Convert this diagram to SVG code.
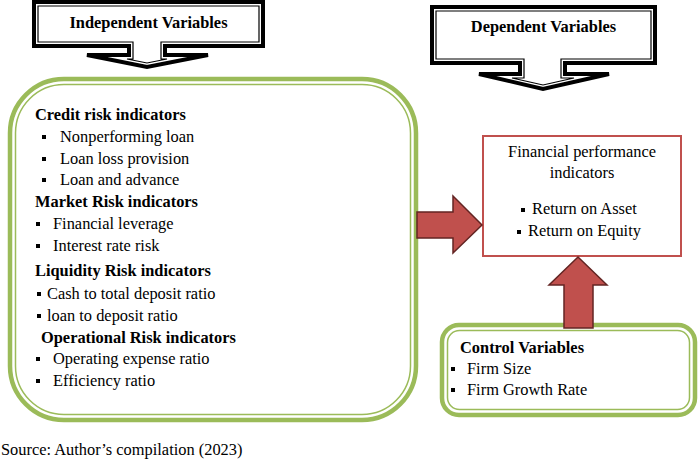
<svg xmlns="http://www.w3.org/2000/svg" width="698" height="464" viewBox="0 0 698 464">
<style>
text{font-family:"Liberation Serif","Times New Roman",serif;font-size:16.4px;fill:#000}
.b{font-weight:bold}
.c{text-anchor:middle}
.co{fill:#fff;stroke:#000;stroke-width:4;stroke-linejoin:miter}
.ci{fill:none;stroke:#000;stroke-width:1.2}
.go{fill:#fff;stroke:#9bbb59;stroke-width:4.5}
.gi{fill:none;stroke:#9bbb59;stroke-width:1.5}
.ar{fill:#c0504d;stroke:#632523;stroke-width:1.5;stroke-linejoin:miter}
.bl{fill:#000}
</style>
<rect width="698" height="464" fill="#fff"/>

<g id="independent-callout">
<path class="co" d="M34,2 H263 V46 H165 V55 H208 L147,67 L87,55 H129 V46 H34 Z"/>
<path class="ci" d="M38,6 H259 V42 H161 V59 H167 L147,63 L127,59 H133 V42 H38 Z"/>
<text class="b c" x="148.5" y="28">Independent Variables</text>
</g>

<g id="dependent-callout">
<path class="co" d="M432,7 H655 V63 H565 V74 H609 L543,89 L479,74 H520 V63 H432 Z"/>
<path class="ci" d="M436,11 H651 V59 H561 V78 H574 L543,85 L512,78 H524 V59 H436 Z"/>
<text class="b c" x="543.5" y="32">Dependent Variables</text>
</g>

<g id="independent-box">
<rect class="go" x="10" y="79" width="406" height="341" rx="54"/>
<rect class="gi" x="15.5" y="84.5" width="395" height="330" rx="48.5"/>
<text class="b" x="35" y="120">Credit risk indicators</text>
<rect class="bl" x="42" y="135" width="4" height="4"/>
<text x="60" y="142">Nonperforming loan</text>
<rect class="bl" x="42" y="157" width="4" height="4"/>
<text x="60" y="164">Loan loss provision</text>
<rect class="bl" x="42" y="178" width="4" height="4"/>
<text x="60" y="185">Loan and advance</text>
<text class="b" x="35" y="207">Market Risk indicators</text>
<rect class="bl" x="36" y="222" width="4" height="4"/>
<text x="53" y="229">Financial leverage</text>
<rect class="bl" x="36" y="244" width="4" height="4"/>
<text x="53" y="251">Interest rate risk</text>
<text class="b" x="35" y="276">Liquidity Risk indicators</text>
<rect class="bl" x="37" y="292" width="4" height="4"/>
<text x="47" y="299">Cash to total deposit ratio</text>
<rect class="bl" x="37" y="314" width="4" height="4"/>
<text x="47" y="321">loan to deposit ratio</text>
<text class="b" x="41" y="343">Operational Risk indicators</text>
<rect class="bl" x="36" y="357" width="4" height="4"/>
<text x="53" y="364">Operating expense ratio</text>
<rect class="bl" x="36" y="379" width="4" height="4"/>
<text x="53" y="386">Efficiency ratio</text>
</g>

<g id="dependent-box">
<rect x="483" y="136" width="198" height="120" fill="#fff" stroke="#c0504d" stroke-width="2"/>
<text class="c" x="582" y="157">Financial performance</text>
<text class="c" x="582" y="178">indicators</text>
<rect class="bl" x="521" y="208" width="4" height="4"/>
<text x="532" y="214">Return on Asset</text>
<rect class="bl" x="517" y="230" width="4" height="4"/>
<text x="528" y="236">Return on Equity</text>
</g>

<g id="control-box">
<rect class="go" x="442" y="325" width="253" height="90" rx="17"/>
<rect class="gi" x="447.5" y="330.5" width="242" height="79" rx="12"/>
<text class="b" x="460" y="353">Control Variables</text>
<rect class="bl" x="451" y="367" width="4" height="4"/>
<text x="467" y="374">Firm Size</text>
<rect class="bl" x="451" y="388" width="4" height="4"/>
<text x="467" y="395">Firm Growth Rate</text>
</g>

<g id="connectors">
<path class="ar" d="M417,212 H453 V196 L482,225 L453,253 V238 H417 Z"/>
<path class="ar" d="M564,328 V285 H549 L578,257 L607,285 H593 V328 Z"/>
</g>

<text x="1" y="455">Source: Author’s compilation (2023)</text>
</svg>
